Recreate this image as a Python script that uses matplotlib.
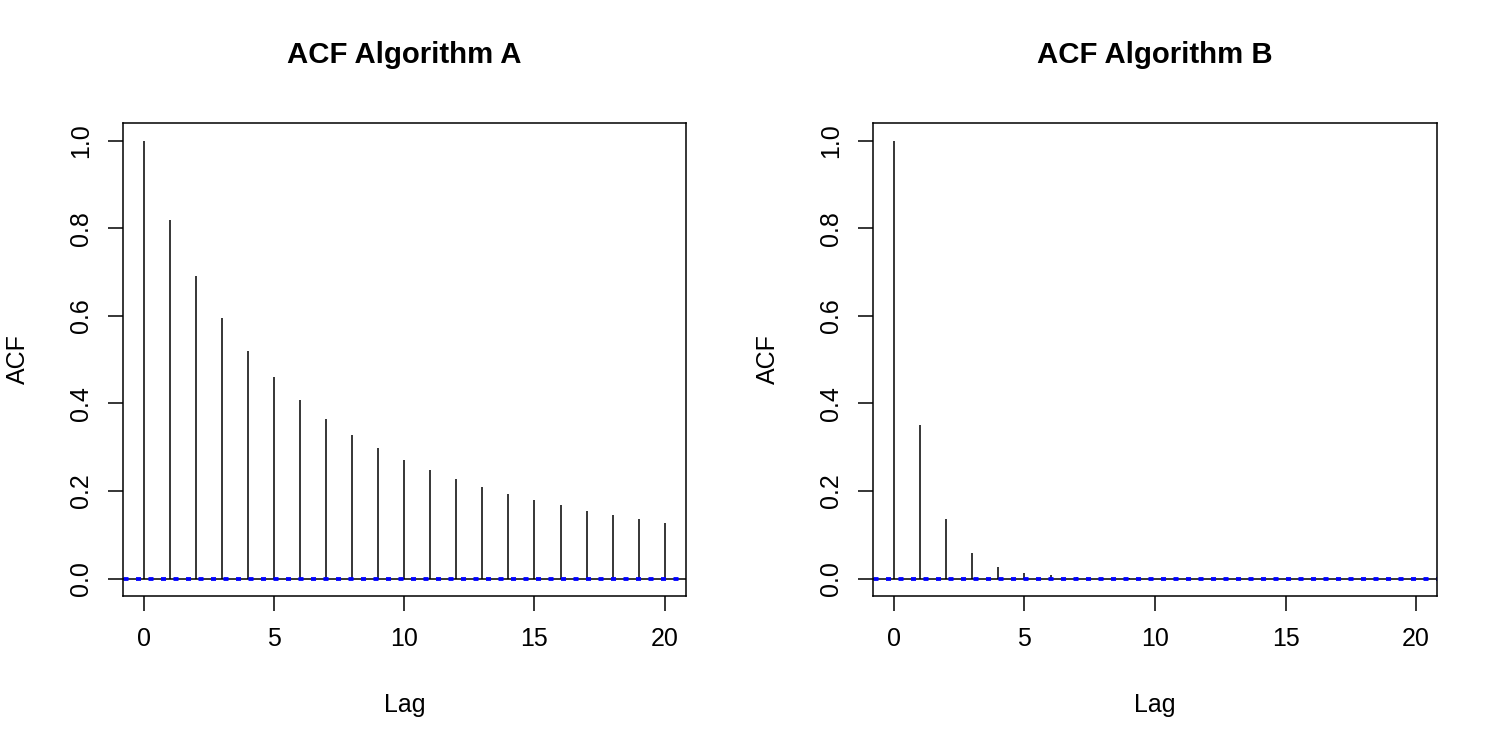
import numpy as np
import matplotlib
matplotlib.use('Agg')
import matplotlib.pyplot as plt

plt.rcParams['font.family'] = ['Liberation Sans', 'DejaVu Sans']

lags = list(range(21))
acf_a = [1.0, 0.819, 0.691, 0.595, 0.519, 0.459, 0.407, 0.364, 0.327, 0.297, 0.270,
         0.247, 0.227, 0.208, 0.194, 0.179, 0.167, 0.155, 0.145, 0.136, 0.127]
acf_b = [1.0, 0.350, 0.135, 0.058, 0.027, 0.013, 0.007, 0.003, 0.002, 0.001, 0.0,
         0.0, 0.0, 0.0, 0.0, 0.0, 0.0, 0.0, 0.0, 0.0, 0.0]
titles = ['ACF Algorithm A', 'ACF Algorithm B']
ci = 0.0012  # 2/sqrt(N), tiny for long chains

fig = plt.figure(figsize=(15, 7.5), dpi=100)
positions = [[0.082, 0.2053, 0.375, 0.6307], [0.582, 0.2053, 0.376, 0.6307]]

for pos, vals, title in zip(positions, [acf_a, acf_b], titles):
    ax = fig.add_axes(pos)
    ax.vlines(lags, 0, vals, color='black', lw=1.1)
    ax.axhline(0, color='black', lw=1.1)
    for c in (ci, -ci):
        ax.axhline(c, color='#0000ff', lw=2.0, ls=(0, (1.8, 2.7)))
    ax.set_xlim(-0.8, 20.8)
    ax.set_ylim(-0.04, 1.04)
    ax.set_xticks([0, 5, 10, 15, 20])
    ax.set_yticks([0.0, 0.2, 0.4, 0.6, 0.8, 1.0])
    ax.set_yticklabels(['0.0', '0.2', '0.4', '0.6', '0.8', '1.0'], rotation=90, va='center')
    ax.tick_params(direction='out', length=10.5, width=1.1, labelsize=18)
    ax.tick_params(axis='x', pad=12)
    ax.tick_params(axis='y', pad=11)
    for s in ax.spines.values():
        s.set_linewidth(1.1)
    ax.text(0.5, 1.127, title, transform=ax.transAxes, ha='center', va='baseline',
            fontsize=21.2, fontweight='bold')
    ax.set_xlabel('Lag', fontsize=18)
    ax.xaxis.set_label_coords(0.5, -0.245)
    ax.xaxis.label.set_verticalalignment('baseline')
    ax.set_ylabel('ACF', fontsize=18)
    ax.yaxis.set_label_coords(-0.174, 0.5)
    ax.yaxis.label.set_verticalalignment('baseline')

fig.savefig('out.png', dpi=100)
